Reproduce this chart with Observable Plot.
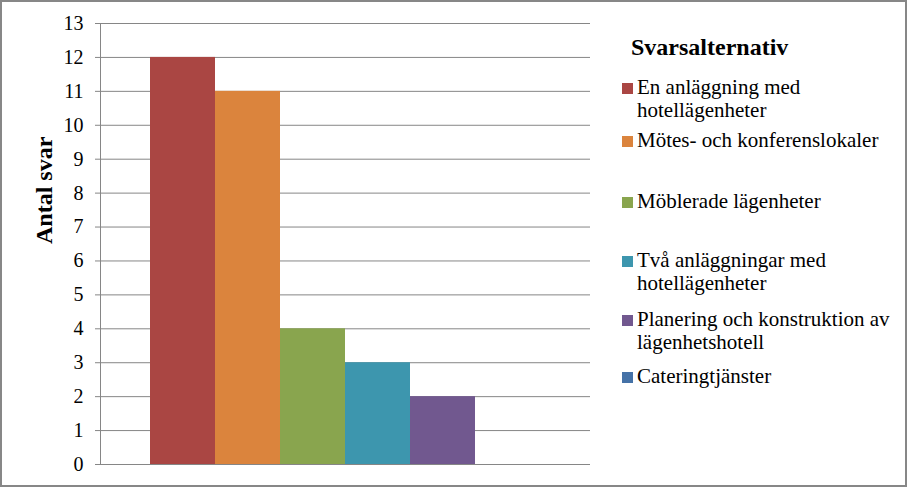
<!DOCTYPE html>
<html>
<head>
<meta charset="utf-8">
<script src="https://cdn.jsdelivr.net/npm/d3@7"></script>
<script src="https://cdn.jsdelivr.net/npm/@observablehq/plot@0.6"></script>
<style>
  html, body { margin: 0; padding: 0; background: #fff; }
  #wrap { position: relative; width: 910px; height: 488px; overflow: hidden; font-family: 'Liberation Serif', 'Times New Roman', serif; }
  #chart { position: absolute; left: 0; top: 0; }
  #border { position: absolute; left: 0; top: 0; width: 907px; height: 487px; box-sizing: border-box; border: 2px solid #878787; pointer-events: none; }
  #legend-title { position: absolute; left: 631px; top: 35px; font-size: 24px; font-weight: bold; line-height: 1; white-space: nowrap; }
  .entry { position: absolute; left: 637px; width: 258px; font-size: 21px; line-height: 23px; }
  .sw { position: absolute; left: -15px; top: 7px; width: 11px; height: 11px; }
</style>
</head>
<body>
<div id="wrap">
  <div id="chart"></div>
  <div id="legend-title"></div>
  <div id="legend"></div>
  <div id="border"></div>
</div>
<script>
// Data
const categories = [
  "En anläggning med hotellägenheter",
  "Mötes- och konferenslokaler",
  "Möblerade lägenheter",
  "Två anläggningar med hotellägenheter",
  "Planering och konstruktion av lägenhetshotell",
  "Cateringtjänster"
];
const values = [12, 11, 4, 3, 2, 0];
const colors = ["#AA4643", "#DB843D", "#89A54E", "#3D96AE", "#71588F", "#4572A7"];
const yTicks = [0, 1, 2, 3, 4, 5, 6, 7, 8, 9, 10, 11, 12, 13];
const yTitle = "Antal svar";
const legendTitle = "Svarsalternativ";

// Layout (legend entry tops, px)
const legendTops = [76, 129, 190, 249, 308, 365];

const data = categories.map((c, i) => ({cat: c, value: values[i]}));

const chart = Plot.plot({
  width: 910,
  height: 488,
  marginLeft: 100,
  marginRight: 320,
  marginTop: 23,
  marginBottom: 24,
  style: { fontFamily: "'Liberation Serif', 'Times New Roman', serif", fontSize: "20px", color: "#000", background: "transparent" },
  x: { domain: categories, paddingInner: 0, paddingOuter: 50 / 65, axis: null },
  y: { domain: [0, 13] },
  color: { domain: categories, range: colors },
  marks: [
    Plot.gridY(yTicks, { stroke: "#868686", strokeOpacity: 1 }),
    Plot.barY(data, { x: "cat", y: "value", fill: "cat" }),
    Plot.frame({ anchor: "left", stroke: "#868686" }),
    Plot.axisY(yTicks, { tickSize: 5, tickPadding: 12, stroke: "#868686", label: null, tickFormat: d => String(d) }),
    Plot.text([yTitle], { frameAnchor: "left", dx: -56, rotate: -90, fontSize: 24, fontWeight: "bold", fill: "#000" })
  ]
});
document.getElementById("chart").appendChild(chart);

document.getElementById("legend-title").textContent = legendTitle;
const legend = document.getElementById("legend");
categories.forEach((c, i) => {
  const e = document.createElement("div");
  e.className = "entry";
  e.style.top = legendTops[i] + "px";
  const sw = document.createElement("div");
  sw.className = "sw";
  sw.style.background = colors[i];
  e.appendChild(sw);
  e.appendChild(document.createTextNode(c));
  legend.appendChild(e);
});
</script>
</body>
</html>
